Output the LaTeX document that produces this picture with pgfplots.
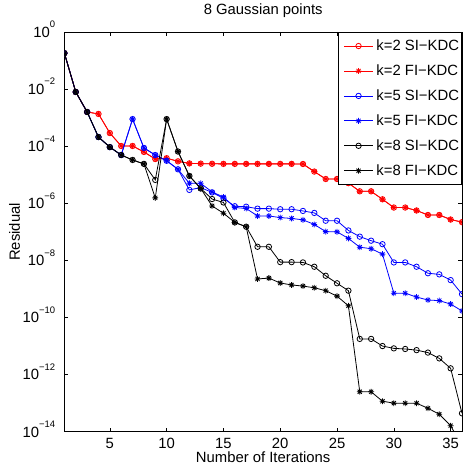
\documentclass[border=0pt]{standalone}
\usepackage{fontspec}
\setmainfont{Liberation Sans}
\usepackage{pgfplots}
\pgfplotsset{compat=1.18}

% matlab-like '*' marker (plus and cross)
\pgfdeclareplotmark{mstar}{%
  \pgfpathmoveto{\pgfqpoint{-\pgfplotmarksize}{0pt}}%
  \pgfpathlineto{\pgfqpoint{\pgfplotmarksize}{0pt}}%
  \pgfpathmoveto{\pgfqpoint{0pt}{-\pgfplotmarksize}}%
  \pgfpathlineto{\pgfqpoint{0pt}{\pgfplotmarksize}}%
  \pgfpathmoveto{\pgfqpoint{-0.707\pgfplotmarksize}{-0.707\pgfplotmarksize}}%
  \pgfpathlineto{\pgfqpoint{0.707\pgfplotmarksize}{0.707\pgfplotmarksize}}%
  \pgfpathmoveto{\pgfqpoint{-0.707\pgfplotmarksize}{0.707\pgfplotmarksize}}%
  \pgfpathlineto{\pgfqpoint{0.707\pgfplotmarksize}{-0.707\pgfplotmarksize}}%
  \pgfusepathqstroke}

\newcommand{\ex}[1]{10\raisebox{9.5bp}{\fontsize{9.5}{10}\selectfont #1}}

\pgfplotstableread{
x y
1 0.182
2 7.94e-3
3 1.58e-3
4 1.35e-3
5 2.88e-4
6 1.02e-4
7 1.02e-4
8 6.3e-5
9 3.55e-5
10 3.8e-5
11 2.95e-5
12 2.5e-5
13 2.45e-5
14 2.42e-5
15 2.4e-5
16 2.4e-5
17 2.4e-5
18 2.4e-5
19 2.4e-5
20 2.4e-5
21 2.4e-5
22 2.38e-5
23 1.29e-5
24 7.1e-6
25 7.1e-6
26 5.1e-6
27 2.63e-6
28 2.63e-6
29 1.38e-6
30 7.1e-7
31 7.1e-7
32 5.6e-7
33 3.9e-7
34 3.9e-7
35 2.7e-7
36 2.19e-7
}\redSI

\pgfplotstableread{
x y
1 0.182
2 7.94e-3
3 1.58e-3
4 1.35e-3
5 2.88e-4
6 1.02e-4
7 1.02e-4
8 6.3e-5
9 3.55e-5
10 3.8e-5
11 2.95e-5
12 2.5e-5
13 2.45e-5
14 2.42e-5
15 2.4e-5
16 2.4e-5
17 2.4e-5
18 2.4e-5
19 2.4e-5
20 2.4e-5
21 2.4e-5
22 2.38e-5
23 1.29e-5
24 7.1e-6
25 7.1e-6
26 5.1e-6
27 2.63e-6
28 2.63e-6
29 1.38e-6
30 7.1e-7
31 7.1e-7
32 5.6e-7
33 3.9e-7
34 3.9e-7
35 2.7e-7
36 2.19e-7
}\redFI

\pgfplotstableread{
x y
1 0.182
2 7.94e-3
3 1.58e-3
4 2.09e-4
5 9.3e-5
6 4.9e-5
7 8.9e-4
8 8.7e-5
9 4.9e-5
10 3.09e-5
11 1.55e-5
12 2.95e-6
13 3.55e-6
14 2.4e-6
15 1.51e-6
16 7.9e-7
17 7.6e-7
18 6.5e-7
19 6.5e-7
20 6.2e-7
21 6.2e-7
22 5.4e-7
23 4.6e-7
24 2.45e-7
25 2.45e-7
26 1.12e-7
27 6.8e-8
28 4.9e-8
29 3.7e-8
30 8.5e-9
31 8.5e-9
32 6.0e-9
33 3.55e-9
34 3.24e-9
35 2.04e-9
36 6.6e-10
}\blueSI

\pgfplotstableread{
x y
1 0.182
2 7.94e-3
3 1.58e-3
4 2.09e-4
5 9.3e-5
6 4.9e-5
7 8.9e-4
8 8.7e-5
9 4.9e-5
10 3.09e-5
11 1.55e-5
12 5.0e-6
13 5.0e-6
14 2.5e-6
15 1.66e-6
16 7.1e-7
17 6.6e-7
18 3.6e-7
19 3.6e-7
20 3.16e-7
21 2.95e-7
22 2.63e-7
23 1.82e-7
24 1.02e-7
25 1.0e-7
26 5.9e-8
27 2.9e-8
28 2.57e-8
29 1.66e-8
30 7.1e-10
31 7.1e-10
32 5.2e-10
33 4.1e-10
34 3.9e-10
35 2.95e-10
36 1.7e-10
}\blueFI

\pgfplotstableread{
x y
1 0.182
2 7.94e-3
3 1.58e-3
4 2.09e-4
5 9.3e-5
6 4.9e-5
7 3.3e-5
8 2.4e-5
9 6.6e-6
10 8.9e-4
11 6.5e-5
12 9.1e-6
13 3.3e-6
14 1.41e-6
15 1.07e-6
16 2.14e-7
17 1.51e-7
18 3.0e-8
19 3.0e-8
20 8.7e-9
21 8.7e-9
22 8.5e-9
23 6.0e-9
24 2.9e-9
25 1.58e-9
26 8.7e-10
27 1.78e-11
28 1.78e-11
29 1.0e-11
30 8.3e-12
31 7.9e-12
32 7.2e-12
33 5.9e-12
34 3.7e-12
35 1.66e-12
36 4.4e-14
}\blackSI

\pgfplotstableread{
x y
1 0.182
2 7.94e-3
3 1.58e-3
4 2.09e-4
5 9.3e-5
6 4.9e-5
7 3.3e-5
8 2.4e-5
9 1.55e-6
10 8.9e-4
11 6.5e-5
12 9.1e-6
13 3.3e-6
14 8.1e-7
15 4.5e-7
16 2.14e-7
17 1.51e-7
18 2.24e-9
19 2.4e-9
20 1.62e-9
21 1.38e-9
22 1.26e-9
23 1.1e-9
24 8.7e-10
25 5.6e-10
26 2.57e-10
27 2.5e-13
28 2.5e-13
29 1.17e-13
30 1.0e-13
31 1.0e-13
32 1.0e-13
33 6.6e-14
34 4.1e-14
35 1.62e-14
36 3.2e-15
}\blackFI

\begin{document}
\begin{tikzpicture}
\path[use as bounding box] (-64.4bp,-33.3bp) rectangle (398.6bp,431.7bp);
\begin{axis}[
  at={(0,0)}, anchor=south west,
  scale only axis, width=397.6bp, height=399.7bp,
  font=\fontsize{14.9}{17}\selectfont,
  ymode=log,
  xmin=1, xmax=36, ymin=1e-14, ymax=1,
  xtick={5,10,15,20,25,30,35},
  xticklabels={5,10,15,20,25,30,35},
  ytick={1e-14,1e-12,1e-10,1e-8,1e-6,1e-4,1e-2,1},
  yticklabels={\ex{−14},\ex{−12},\ex{−10},\ex{−8},\ex{−6},\ex{−4},\ex{−2},\ex{0}},
  minor ytick={}, minor xtick={},
  tick align=inside,
  major tick length=4bp,
  tick style={black, line width=0.6bp},
  axis line style={line width=0.8bp},
  xticklabel style={anchor=north, inner sep=0pt, yshift=-6bp},
  yticklabel style={anchor=base east, inner sep=0pt, xshift=-9bp, yshift=-5.3bp},
  title={8 Gaussian points},
  title style={at={(0.5,1.0283)}, anchor=base, inner sep=0pt},
  xlabel={Number of Iterations},
  xlabel style={at={(axis description cs:0.5,-0.0765)}, anchor=base, inner sep=0pt},
  ylabel={Residual},
  ylabel style={at={(axis description cs:-0.1117,0.5)}, rotate=0, anchor=base, inner sep=0pt},
  clip marker paths=true,
  every axis plot/.append style={line width=0.8bp, mark options={solid}},
  legend cell align=left,
  legend style={at={(1,1)}, anchor=north east, draw=black, line width=0.8bp,
    inner xsep=2.6bp, inner ysep=7.5bp, row sep=12.7bp, column sep=3.4bp,
    nodes={inner sep=0pt}, font=\fontsize{14.9}{17}\selectfont},
  legend image code/.code={%
    \path (0bp,0bp);
    \draw[mark repeat=2,mark phase=2] plot coordinates {(3.4bp,0bp) (17.55bp,0bp) (31.7bp,0bp)};},
]
\addplot[color=red, mark=o, mark size=2.7bp] table {\redSI};
\addlegendentry{k=2 SI−KDC}
\addplot[color=red, mark=mstar, mark size=2.9bp] table {\redFI};
\addlegendentry{k=2 FI−KDC}
\addplot[color=blue, mark=o, mark size=2.7bp] table {\blueSI};
\addlegendentry{k=5 SI−KDC}
\addplot[color=blue, mark=mstar, mark size=2.9bp] table {\blueFI};
\addlegendentry{k=5 FI−KDC}
\addplot[color=black, mark=o, mark size=2.7bp] table {\blackSI};
\addlegendentry{k=8 SI−KDC}
\addplot[color=black, mark=mstar, mark size=2.9bp] table {\blackFI};
\addlegendentry{k=8 FI−KDC}
\end{axis}
\end{tikzpicture}
\end{document}
